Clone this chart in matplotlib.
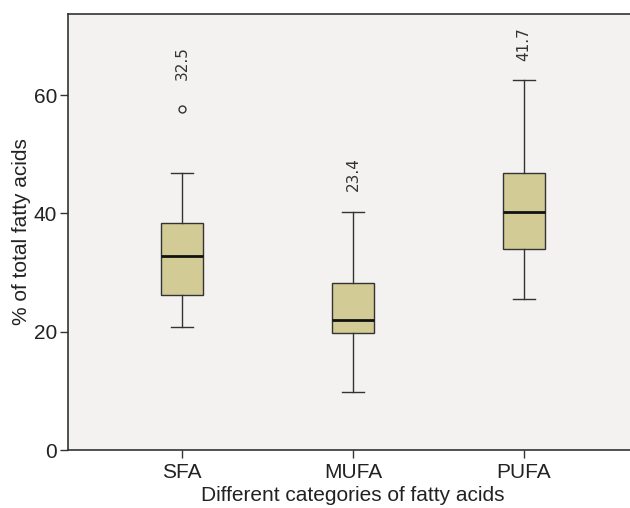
import matplotlib
matplotlib.use("Agg")
import matplotlib.pyplot as plt

categories = ["SFA", "MUFA", "PUFA"]
q1 = [26.2, 19.7, 34.0]
median = [32.8, 21.9, 40.2]
q3 = [38.4, 28.2, 46.8]
whislo = [20.8, 9.8, 25.5]
whishi = [46.9, 40.3, 62.5]
outliers = [[57.6], [], []]
labels_text = ["32.5", "23.4", "41.7"]
label_y = [65.4, 46.6, 68.6]
yticks = [0, 20, 40, 60]

plt.rcParams['font.family'] = ['Liberation Sans', 'DejaVu Sans']

fig = plt.figure(figsize=(6.3, 5.08), dpi=100)
fig.patch.set_facecolor('white')
ax = fig.add_axes([68/630, 58/508, 570/630, 436/508])
ax.set_facecolor('#F4F2F0')

stats = []
for i, c in enumerate(categories):
    stats.append(dict(label=c, q1=q1[i], med=median[i], q3=q3[i],
                      whislo=whislo[i], whishi=whishi[i], fliers=outliers[i]))

positions = [1, 2, 3]
ax.bxp(stats, positions=positions, widths=0.25, patch_artist=True,
       boxprops=dict(facecolor='#D3CB95', edgecolor='#333333', linewidth=1.0),
       medianprops=dict(color='#111111', linewidth=2.0),
       whiskerprops=dict(color='#333333', linewidth=1.0),
       capprops=dict(color='#333333', linewidth=1.0),
       capwidths=0.125,
       flierprops=dict(marker='o', markersize=5, markerfacecolor='none',
                       markeredgecolor='#333333', markeredgewidth=1.0))

for p, t, y in zip(positions, labels_text, label_y):
    ax.text(p, y, t, rotation=90, ha='center', va='center', fontsize=11,
            color='#333333', family=['DejaVu Sans'])

ax.set_xlim(0.333, 3.667)
ax.set_ylim(0, 73.7)
ax.set_yticks(yticks)
ax.set_xticks(positions)
ax.set_xticklabels(categories)
ax.tick_params(axis='both', labelsize=15, length=6, width=1.0, color='#333333',
               labelcolor='#222222')
ax.tick_params(axis='x', pad=3)
ax.tick_params(axis='y', pad=2)
for s in ['left', 'bottom', 'top', 'right']:
    ax.spines[s].set_color('#333333')
    ax.spines[s].set_linewidth(1.2)

ax.set_xlabel("Different categories of fatty acids", fontsize=15, color='#222222', labelpad=3)
ax.set_ylabel("% of total fatty acids", fontsize=15, color='#222222', labelpad=2)

fig.savefig("out.png", dpi=100)
